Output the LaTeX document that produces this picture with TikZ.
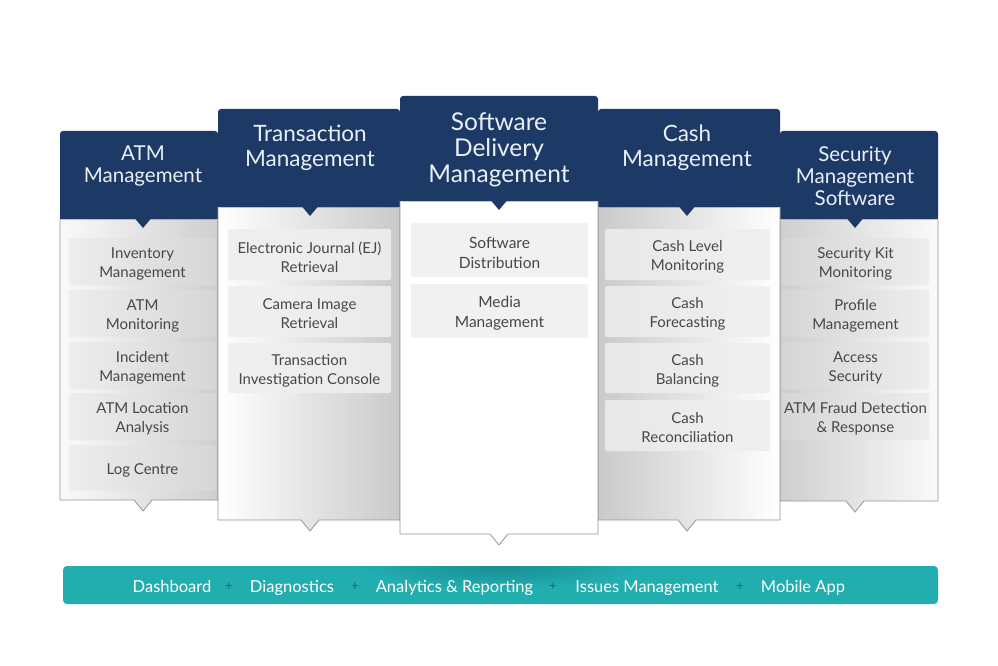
\documentclass[tikz,border=0pt]{standalone}
\usepackage{fontspec}
\setmainfont{Lato}
\usetikzlibrary{calc}
\definecolor{navy}{HTML}{1D3966}
\definecolor{bordergray}{HTML}{959595}
\definecolor{itemtext}{HTML}{474747}
\definecolor{teal}{HTML}{22ADAF}
\definecolor{tealdark}{HTML}{178E92}
\definecolor{plusc}{HTML}{1A6A78}
\definecolor{headtext}{HTML}{EAF0F7}
\newcommand{\panel}[7]{%
  \shade[#7, draw=bordergray, line width=0.8pt] (#1,#4) -- (#1,#5) -- ({#6-9},#5) -- (#6,{#5+11}) -- ({#6+9},#5) -- (#2,#5) -- (#2,#4) -- cycle;
  \fill[navy, rounded corners=3pt] (#1,#3) rectangle (#2,#4);
  \fill[navy] (#1,{#3+10}) rectangle (#2,#4);
  \fill[navy] ({#6-8},{#4-0.5}) -- (#6,{#4+9}) -- ({#6+8},{#4-0.5}) -- cycle;
}
\tikzset{
  head/.style={text=headtext, align=center, inner sep=0pt},
  headS/.style={head, font=\fontsize{20.5}{22}\selectfont},
  headM/.style={head, font=\fontsize{22.5}{25}\selectfont},
  headL/.style={head, font=\fontsize{24.5}{26}\selectfont},
  itemlabel/.style={align=center, inner sep=0pt, text=itemtext, yshift=-2.5pt,
    font=\fontsize{15}{19}\selectfont},
  item/.style={rectangle, rounded corners=2pt, inner sep=0pt},
  itemA/.style={item, left color=itemL, right color=itemR},
  bartext/.style={text=white, font=\fontsize{16.5}{18}\selectfont, inner sep=0pt, anchor=base},
  plus/.style={text=plusc, font=\fontsize{13}{14}\selectfont, inner sep=0pt},
}
\definecolor{itemL}{HTML}{EDEDED}
\definecolor{itemR}{HTML}{D6D6D6}
\begin{document}
\begin{tikzpicture}[x=1pt,y=-1pt]
\useasboundingbox (0,0) rectangle (998,666);
\fill[white] (0,0) rectangle (998,666);
% outer columns
\panel{60}{218}{131}{219}{500}{143}{left color=white!96!gray, right color=gray!38}
\panel{780}{938}{131}{219}{501}{855}{left color=gray!38, right color=white!96!gray}
\node[headS] (h1) at (143,166) {ATM\\Management};
\node[headS] (h5) at (855,176.5) {Security\\Management\\Software};
% col 1 items
\node[itemA, minimum width=147, minimum height=47, label={[itemlabel]center:Inventory\\Management}] (i11) at (142.5,261.5) {};
\node[itemA, minimum width=147, minimum height=47, label={[itemlabel]center:ATM\\Monitoring}] (i12) at (142.5,313.5) {};
\node[itemA, minimum width=147, minimum height=47, label={[itemlabel]center:Incident\\Management}] (i13) at (142.5,365.5) {};
\node[itemA, minimum width=147, minimum height=47, label={[itemlabel]center:ATM Location\\Analysis}] (i14) at (142.5,416.5) {};
\node[itemA, minimum width=147, minimum height=46, label={[itemlabel]center:Log Centre}] (i15) at (142.5,468) {};
% col 5 items
\node[item, left color=itemR, right color=itemL, minimum width=147, minimum height=47, label={[itemlabel]center:Security Kit\\Monitoring}] (i51) at (855.5,261.5) {};
\node[item, left color=itemR, right color=itemL, minimum width=147, minimum height=47, label={[itemlabel]center:Profile\\Management}] (i52) at (855.5,313.5) {};
\node[item, left color=itemR, right color=itemL, minimum width=147, minimum height=47, label={[itemlabel]center:Access\\Security}] (i53) at (855.5,365.5) {};
\node[item, left color=itemR, right color=itemL, minimum width=147, minimum height=47, label={[itemlabel]center:ATM Fraud Detection\\\& Response}] (i54) at (855.5,416.5) {};
% middle columns
\panel{218}{400}{109}{207}{520}{310}{left color=white, middle color=white, right color=gray!42}
\panel{598}{780}{109}{207}{520}{687}{left color=gray!42, middle color=white, right color=white}
\node[headM] (h2) at (310,147.5) {Transaction\\Management};
\node[headM] (h4) at (687,147.5) {Cash\\Management};
\node[item, left color=gray!12, right color=gray!16, minimum width=163, minimum height=51, label={[itemlabel]center:Electronic Journal (EJ)\\Retrieval}] (i21) at (309.5,254.5) {};
\node[item, left color=gray!12, right color=gray!16, minimum width=163, minimum height=51, label={[itemlabel]center:Camera Image\\Retrieval}] (i22) at (309.5,311.5) {};
\node[item, left color=gray!12, right color=gray!16, minimum width=163, minimum height=50, label={[itemlabel]center:Transaction\\Investigation Console}] (i23) at (309.5,368) {};
\node[item, left color=gray!18, right color=gray!12, minimum width=165, minimum height=51, label={[itemlabel]center:Cash Level\\Monitoring}] (i41) at (687.5,254.5) {};
\node[item, left color=gray!18, right color=gray!12, minimum width=165, minimum height=51, label={[itemlabel]center:Cash\\Forecasting}] (i42) at (687.5,311.5) {};
\node[item, left color=gray!18, right color=gray!12, minimum width=165, minimum height=50, label={[itemlabel]center:Cash\\Balancing}] (i43) at (687.5,368) {};
\node[item, left color=gray!18, right color=gray!12, minimum width=165, minimum height=51, label={[itemlabel]center:Cash\\Reconciliation}] (i44) at (687.5,425.5) {};
% centre column
\panel{400}{598}{96}{201}{534}{499}{left color=white, right color=white}
\node[headL] (h3) at (499,150) {Software\\Delivery\\Management};
\node[item, fill=gray!11, minimum width=177, minimum height=54, label={[itemlabel, font=\fontsize{15.5}{20}\selectfont]center:Software\\Distribution}] (i31) at (499.5,250) {};
\node[item, fill=gray!11, minimum width=177, minimum height=54, label={[itemlabel, font=\fontsize{15.5}{20}\selectfont]center:Media\\Management}] (i32) at (499.5,311) {};
% bottom bar
\fill[teal, rounded corners=4pt] (63,566) rectangle (938,604);
\begin{scope}
  \clip[rounded corners=4pt] (63,566) rectangle (938,604);
  \shade[inner color=tealdark, outer color=teal] (499,566) ellipse [x radius=140, y radius=22];
\end{scope}
\node[bartext] (b1) at (172,592.5) {Dashboard};
\node[plus] (p1) at (229,587) {+};
\node[bartext] (b2) at (292,592.5) {Diagnostics};
\node[plus] (p2) at (355,587) {+};
\node[bartext] (b3) at (454.5,592.5) {Analytics \& Reporting};
\node[plus] (p3) at (553,587) {+};
\node[bartext] (b4) at (647,592.5) {Issues Management};
\node[plus] (p4) at (740,587) {+};
\node[bartext] (b5) at (803,592.5) {Mobile App};
\end{tikzpicture}
\end{document}
